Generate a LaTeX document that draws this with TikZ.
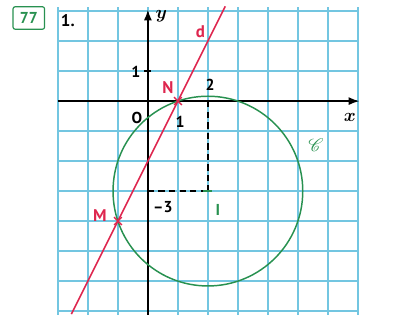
\documentclass[tikz,border=0pt]{standalone}
\usepackage{fontspec}
\setmainfont{PT Sans}
\usepackage{amsmath,amssymb,mathrsfs}
\usepackage{tikz}
\usetikzlibrary{arrows.meta,positioning,calc}
\definecolor{skyline}{RGB}{115, 198, 225}
\definecolor{crimson}{RGB}{222, 38, 78}
\definecolor{leafgreen}{RGB}{40, 145, 80}

\begin{document}
\begin{tikzpicture}[>=Latex, every node/.style={font=\fontsize{15}{17}\selectfont\bfseries},
    lbl/.style={inner sep=1pt}, redlbl/.style={lbl, text=crimson, font=\fontsize{16}{18}\selectfont\bfseries}]
    \useasboundingbox (-4.93,-7.37) rectangle (8.97,3.37);
    % grid
    \foreach \x in {-3,...,7} \draw[draw=skyline, line width=1.2pt] (\x,-7.12) -- (\x,3.12);
    \foreach \y in {-7,...,3} \draw[draw=skyline, line width=1.2pt] (-3,\y) -- (7,\y);
    % axes
    \draw[->, line width=1.6pt] (-3,0) -- (7.05,0);
    \draw[->, line width=1.6pt] (0,-7.12) -- (0,3.05);
    \draw[line width=1.3pt] (-0.12,1) -- (0.12,1);
    \coordinate (O) at (0,0);
    \coordinate (N) at (1,0);
    \coordinate (M) at (-1,-4);
    \coordinate (I) at (2,-3);
    \coordinate (Ix) at (2,0);
    \coordinate (Iy) at (0,-3);
    % dashed projections
    \draw[dash pattern=on 6pt off 4pt, line width=1.4pt] (Ix) -- (I);
    \draw[dash pattern=on 6pt off 4pt, line width=1.4pt] (Iy) -- (I);
    % circle and line
    \draw[leafgreen, line width=1.4pt] (I) circle ({sqrt(10)});
    \draw[leafgreen, line width=1.3pt] ($(I)+(-0.15,0)$) -- ($(I)+(0.15,0)$);
    \draw[crimson, line width=1.5pt] (-2.55,-7.1) -- (2.58,3.16);
    \foreach \p in {N,M}
      \draw[crimson, line width=1.3pt] ($(\p)+(-0.13,-0.13)$) -- ($(\p)+(0.13,0.13)$)
        ($(\p)+(-0.13,0.13)$) -- ($(\p)+(0.13,-0.13)$);
    % labels
    \node[draw=leafgreen, line width=1.1pt, rounded corners=2pt, text=leafgreen,
      minimum width=1.05cm, minimum height=0.75cm, inner sep=1pt] (num) at (-3.97,2.77) {77};
    \node[lbl, font=\fontsize{16}{18}\selectfont\bfseries] (item) at (-2.67,2.68) {1.};
    \node[lbl, font=\fontsize{17}{19}\selectfont] (ylbl) at (0.45,2.82) {$\boldsymbol{y}$};
    \node[lbl, font=\fontsize{17}{19}\selectfont] (xlbl) at (6.73,-0.55) {$\boldsymbol{x}$};
    \node[redlbl] (dlbl) at (1.75,2.3) {d};
    \node[lbl] (one) at (-0.4,0.97) {1};
    \node[redlbl] (Nlbl) at (0.67,0.45) {N};
    \node[lbl] (two) at (2.07,0.55) {2};
    \node[lbl] (Olbl) at (-0.37,-0.55) {O};
    \node[lbl] (onex) at (1.07,-0.7) {1};
    \node[lbl] (mthree) at (0.5,-3.53) {\textendash3};
    \node[lbl, text=leafgreen] (Ilbl) at (2.33,-3.63) {I};
    \node[redlbl] (Mlbl) at (-1.6,-3.8) {M};
    \node[lbl, text=leafgreen, font=\fontsize{18}{20}\selectfont] (Clbl) at (5.6,-1.47) {$\mathscr{C}$};
\end{tikzpicture}
\end{document}
